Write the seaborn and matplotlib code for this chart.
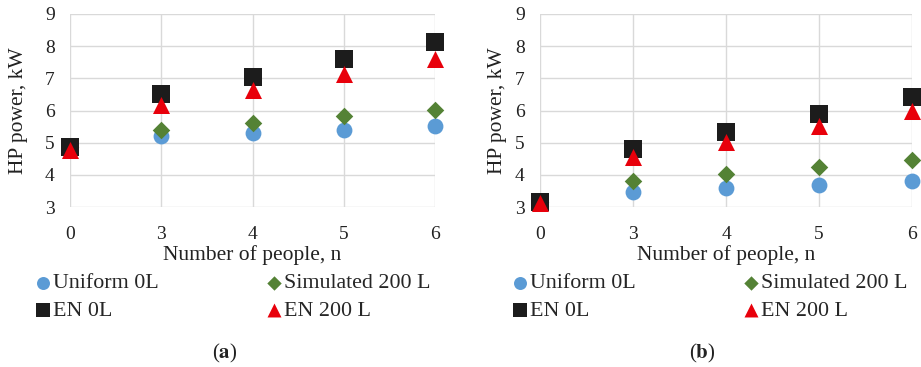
import matplotlib
matplotlib.use("Agg")
import matplotlib.pyplot as plt
import seaborn as sns
import pandas as pd

# Number of occupants (categorical axis, evenly spaced)
people = ["0", "3", "4", "5", "6"]

# Panel (a): heat pump power, kW
a_uniform_0l = [4.85, 5.2, 5.3, 5.4, 5.52]
a_simulated_200l = [4.85, 5.4, 5.6, 5.82, 6.03]
a_en_0l = [4.87, 6.5, 7.05, 7.6, 8.13]
a_en_200l = [4.78, 6.17, 6.65, 7.13, 7.6]

# Panel (b): heat pump power, kW
b_uniform_0l = [3.15, 3.48, 3.58, 3.69, 3.8]
b_simulated_200l = [3.15, 3.82, 4.03, 4.23, 4.45]
b_en_0l = [3.17, 4.8, 5.33, 5.88, 6.42]
b_en_200l = [3.12, 4.56, 5.02, 5.53, 6.0]

series_names = ["Uniform 0L", "Simulated 200 L", "EN 0L", "EN 200 L"]
colors = {"Uniform 0L": "#5b9bd5", "Simulated 200 L": "#548235",
          "EN 0L": "#1c1c1c", "EN 200 L": "#e8000b"}
markers = {"Uniform 0L": "o", "Simulated 200 L": "D", "EN 0L": "s", "EN 200 L": "^"}
sizes = {"Uniform 0L": 130, "Simulated 200 L": 80, "EN 0L": 160, "EN 200 L": 150}

sns.set_theme(style="white")
plt.rcParams["font.family"] = ["Liberation Serif", "DejaVu Serif"]
plt.rcParams["mathtext.fontset"] = "stix"

fig = plt.figure(figsize=(9.21, 3.67), dpi=100)
W, H = 921, 367


def px_axes(x0, x1, ytop, ybot):
    return fig.add_axes([x0 / W, 1 - ybot / H, (x1 - x0) / W, (ybot - ytop) / H])


panels = [
    (px_axes(70, 435, 14, 207), [a_uniform_0l, a_simulated_200l, a_en_0l, a_en_200l],
     35.5, 225, "a", 12),
    (px_axes(540, 912, 14, 207), [b_uniform_0l, b_simulated_200l, b_en_0l, b_en_200l],
     512.3, 702, "b", 5.5),
]

for ax, values, leg_x, cap_x, tag, ypad in panels:
    rows = []
    for name, vals in zip(series_names, values):
        for i, (p, v) in enumerate(zip(people, vals)):
            rows.append({"pos": i, "people": p, "power": v, "series": name})
    df = pd.DataFrame(rows)
    for name in series_names:
        sub = df[df["series"] == name]
        sns.scatterplot(data=sub, x="pos", y="power", ax=ax, color=colors[name],
                        marker=markers[name], s=sizes[name], linewidth=0,
                        clip_on=False, zorder=3, label=name, legend=True)
    h, l = ax.get_legend_handles_labels()
    hmap = dict(zip(l, h))
    order = ["Uniform 0L", "EN 0L", "Simulated 200 L", "EN 200 L"]

    ax.set_xlim(0, len(people) - 1)
    ax.set_ylim(3, 9)
    ax.set_xticks(range(len(people)))
    ax.set_xticklabels(people)
    ax.set_yticks(range(3, 10))
    ax.grid(True, color="#d9d9d9", linewidth=1.0, zorder=0)
    ax.set_axisbelow(True)
    for sp in ax.spines.values():
        sp.set_visible(False)
    ax.tick_params(axis="both", length=0, labelsize=14, colors="#222222")
    ax.tick_params(axis="y", pad=11)
    ax.tick_params(axis="x", pad=14)
    ax.set_xlabel("Number of people, n", fontsize=15.5, color="#222222", labelpad=1.5)
    ax.set_ylabel("HP power, kW", fontsize=15.5, color="#222222", labelpad=ypad)

    ax.legend([hmap[k] for k in order], order, loc="upper left",
              bbox_to_anchor=(leg_x / W, 1 - 273 / H), bbox_transform=fig.transFigure,
              ncol=2, frameon=False, fontsize=15.8, handlelength=0.7,
              handletextpad=0.1, columnspacing=4.9, labelspacing=0.33,
              borderaxespad=0, borderpad=0, markerscale=0.82)

    fig.text(cap_x / W, 1 - 353 / H, r"($\mathbf{%s}$)" % tag, ha="center",
             va="center", fontsize=15, color="#222222")

fig.savefig("out.png", dpi=100)
